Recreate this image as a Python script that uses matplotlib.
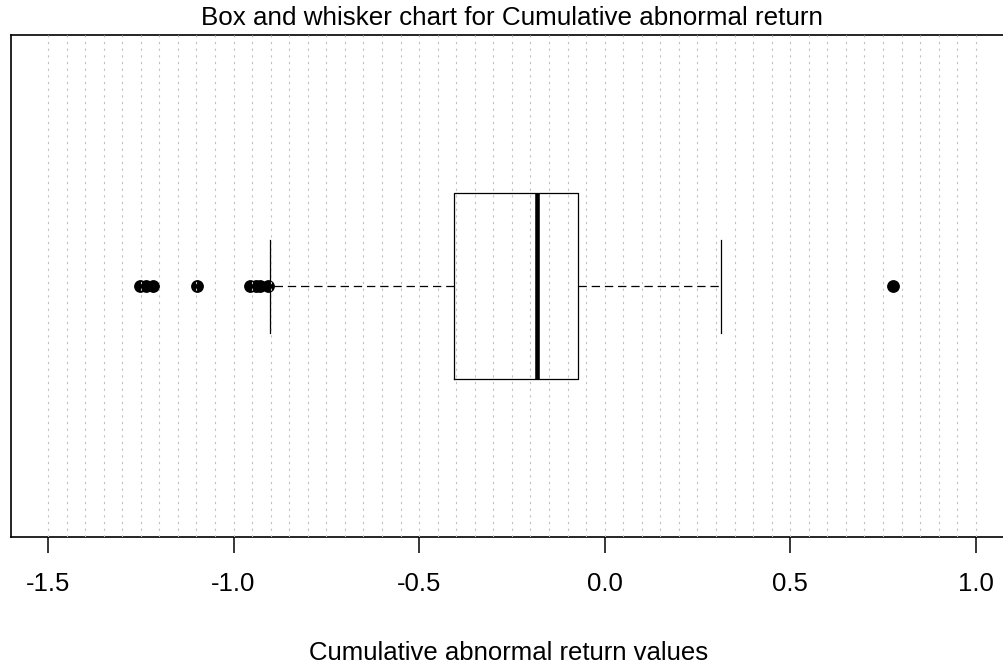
import numpy as np
import matplotlib
matplotlib.use("Agg")
import matplotlib.pyplot as plt

plt.rcParams["font.family"] = ["Liberation Sans", "DejaVu Sans"]
plt.rcParams["lines.scale_dashes"] = False

# summary of cumulative abnormal returns
q1 = -0.406
median = -0.183
q3 = -0.072
whisker_low = -0.901
whisker_high = 0.313
outliers = [-1.252, -1.236, -1.216, -1.098, -0.955, -0.940, -0.928, -0.908, 0.776]
tick_values = [-1.5, -1.0, -0.5, 0.0, 0.5, 1.0]
tick_labels = ["-1.5", "-1.0", "-0.5", "0.0", "0.5", "1.0"]

stats = [{
    "q1": q1, "med": median, "q3": q3,
    "whislo": whisker_low, "whishi": whisker_high,
    "fliers": outliers, "label": "",
}]

fig = plt.figure(figsize=(10.04, 6.68), dpi=100)
ax = fig.add_axes([0.0108, 0.196, 0.9980, 0.7515])

ax.bxp(
    stats, positions=[1], widths=0.4, capwidths=0.2,
    orientation="horizontal", showfliers=True,
    boxprops=dict(color="black", linewidth=0.9),
    medianprops=dict(color="black", linewidth=3.3, solid_capstyle="butt"),
    whiskerprops=dict(color="black", linewidth=0.9, linestyle=(0, (6, 3.5))),
    capprops=dict(color="black", linewidth=0.9),
    flierprops=dict(marker="o", markerfacecolor="black", markeredgecolor="black",
                    markersize=8.2),
)

# dotted reference lines every 0.05
for gx in np.arange(-1.5, 1.0 + 1e-9, 0.05):
    ax.axvline(gx, color="#c0c0c0", linewidth=0.8, linestyle=(0, (1.6, 3.2)), zorder=5)

ax.set_xlim(-1.6, 1.1)
ax.set_ylim(0.46, 1.54)
ax.set_yticks([])
ax.set_xticks(tick_values)
ax.set_xticklabels(tick_labels)
ax.tick_params(axis="x", length=11.5, width=1.1, pad=14, labelsize=18.5)
for s in ax.spines.values():
    s.set_linewidth(1.2)
ax.spines["right"].set_visible(False)

fig.text(0.51, 0.973, "Box and whisker chart for Cumulative abnormal return",
         ha="center", va="center", fontsize=18.7)
fig.text(0.507, 0.022, "Cumulative abnormal return values",
         ha="center", va="center", fontsize=18.5)

fig.savefig("out.png", dpi=100)
